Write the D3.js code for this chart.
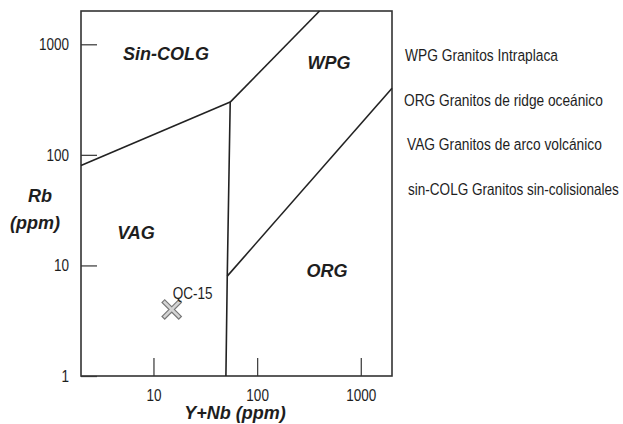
<!DOCTYPE html>
<html>
<head>
<meta charset="utf-8">
<script src="https://cdn.jsdelivr.net/npm/d3@7"></script>
<style>
  html, body { margin: 0; padding: 0; background: #fff; }
  svg { display: block; }
  .narrow { font-family: 'Liberation Sans', Arial, sans-serif; fill: #1e1e1e; }
  .bold { font-family: 'Liberation Sans', Arial, sans-serif; font-weight: bold; font-style: italic; fill: #1e1e1e; }
</style>
</head>
<body>
<svg id="chart" width="623" height="424"></svg>
<script>
// Tectonic discrimination diagram for granites: Rb vs Y+Nb (Pearce et al., 1984)

// Axis ticks
const xTicks = [10, 100, 1000];
const yTicks = [1, 10, 100, 1000];

// Field boundaries, as [Y+Nb, Rb] vertices in ppm
const boundaryColgVag = [[2, 80], [55, 300]];
const boundaryWpgColg = [[55, 300], [400, 2000]];
const boundaryVagEast = [[55, 300], [51.5, 8], [50, 1]];
const boundaryWpgOrg = [[51.5, 8], [2000, 400]];

// Field names
const fieldNames = ["Sin-COLG", "WPG", "VAG", "ORG"];

// Analysed sample
const sampleNames = ["QC-15"];
const sampleYNb = [15];
const sampleRb = [4];

// Legend entries
const legendItems = [
  "WPG Granitos Intraplaca",
  "ORG Granitos de ridge oceánico",
  "VAG Granitos de arco volcánico",
  "sin-COLG Granitos sin-colisionales"
];

const svg = d3.select("#chart");
const plotLeft = 81, plotRight = 392, plotTop = 11, plotBottom = 376;
const squeeze = 0.82;   // horizontal condensing of the plain labels
const plainSize = 16.5;

const x = d3.scaleLog().domain([2, 2000]).range([plotLeft, plotRight]);
const y = d3.scaleLog().domain([1, 2000]).range([plotBottom, plotTop]);

// Condensed plain text placed at (px, py); optionally fitted to a given width
function plainText(parent, px, py, str, fitWidth) {
  const t = parent.append("text").attr("class", "narrow")
    .attr("font-size", plainSize)
    .text(str);
  let sq = squeeze;
  if (fitWidth) {
    const w = t.node().getComputedTextLength();
    if (w > 0) sq = fitWidth / w;
  }
  t.attr("transform", `translate(${px},${py}) scale(${sq},1)`);
  return t;
}

// Axes with inward ticks
const xAxis = d3.axisBottom(x).tickValues(xTicks).tickFormat(d3.format("d"))
  .tickSizeInner(-18).tickSizeOuter(0).tickPadding(13);
const yAxis = d3.axisLeft(y).tickValues(yTicks).tickFormat(d3.format("d"))
  .tickSizeInner(-16).tickSizeOuter(0).tickPadding(12);

const gx = svg.append("g").attr("transform", `translate(0,${plotBottom})`).call(xAxis);
const gy = svg.append("g").attr("transform", `translate(${plotLeft},0)`).call(yAxis);
[gx, gy].forEach(g => {
  g.select(".domain").remove();
  g.selectAll(".tick line").attr("stroke", "#444").attr("stroke-width", 1.3);
  g.selectAll(".tick text").attr("class", "narrow").attr("font-size", plainSize)
    .attr("fill", "#1e1e1e").attr("transform", `scale(${squeeze},1)`);
});
gy.selectAll(".tick text").attr("x", -12 / squeeze);

// Frame
svg.append("rect")
  .attr("x", plotLeft).attr("y", plotTop)
  .attr("width", plotRight - plotLeft).attr("height", plotBottom - plotTop)
  .attr("fill", "none").attr("stroke", "#333").attr("stroke-width", 1.6);

// Boundaries
const line = d3.line().x(d => x(d[0])).y(d => y(d[1]));
[boundaryColgVag, boundaryWpgColg, boundaryVagEast, boundaryWpgOrg].forEach(b => {
  svg.append("path").attr("d", line(b))
    .attr("fill", "none").attr("stroke", "#222").attr("stroke-width", 1.6)
    .attr("stroke-linejoin", "round");
});

// Field labels
const fieldPos = [[166, 60], [329, 69], [136, 239], [327, 277]];
svg.selectAll("text.field").data(fieldNames).join("text")
  .attr("class", "bold field")
  .attr("x", (d, i) => fieldPos[i][0]).attr("y", (d, i) => fieldPos[i][1])
  .attr("text-anchor", "middle").attr("font-size", 18)
  .text(d => d);

// Axis titles
svg.append("text").attr("class", "bold").attr("x", 40).attr("y", 202)
  .attr("text-anchor", "middle").attr("font-size", 18).text("Rb");
svg.append("text").attr("class", "bold").attr("x", 35).attr("y", 229)
  .attr("text-anchor", "middle").attr("font-size", 18).text("(ppm)");
svg.append("text").attr("class", "bold").attr("x", 235).attr("y", 419)
  .attr("text-anchor", "middle").attr("font-size", 18).text("Y+Nb (ppm)");

// Sample marker: outlined X
const samples = sampleNames.map((n, i) => ({ name: n, ynb: sampleYNb[i], rb: sampleRb[i] }));
const gs = svg.selectAll("g.sample").data(samples).join("g")
  .attr("class", "sample")
  .attr("transform", d => `translate(${x(d.ynb)},${y(d.rb)})`);
const xPath = "M-7,-7L7,7M-7,7L7,-7";
gs.append("path").attr("d", xPath).attr("stroke", "#777").attr("stroke-width", 5)
  .attr("stroke-linecap", "square");
gs.append("path").attr("d", xPath).attr("stroke", "#d4d4d4").attr("stroke-width", 2.6)
  .attr("stroke-linecap", "square");
gs.each(function (d) { plainText(d3.select(this), 1, -10, d.name); });

// Legend, each line fitted to its set width
const legendX = [405, 404, 407, 408];
const legendY = [61, 106, 150, 195];
const legendWidth = [153, 199, 195, 211];
legendItems.forEach((t, i) => plainText(svg, legendX[i], legendY[i], t, legendWidth[i]));
</script>
</body>
</html>
